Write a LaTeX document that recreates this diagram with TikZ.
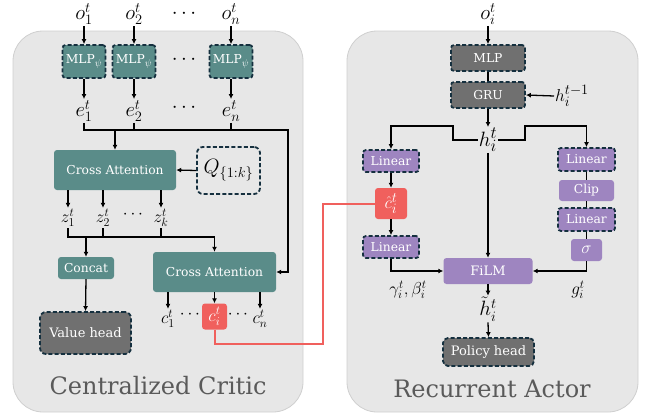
\documentclass[tikz,border=0pt]{standalone}
\usepackage{fontspec}
\setmainfont{DejaVu Serif}
\usetikzlibrary{arrows.meta}
\makeatletter
\def\defaultscriptratio{.78}
\makeatother
\definecolor{teal1}{HTML}{5A8C89}
\definecolor{graybox}{HTML}{707070}
\definecolor{purp}{HTML}{9E85C0}
\definecolor{redc}{HTML}{F0605D}
\definecolor{panelbg}{HTML}{E7E7E7}
\definecolor{panelbd}{HTML}{CFCFCF}
\definecolor{dashbd}{HTML}{15303F}
\definecolor{titlec}{HTML}{5A5A5A}
\tikzset{
  panel/.style={fill=panelbg,draw=panelbd,line width=0.8pt,rounded corners=30pt},
  box/.style={rounded corners=3pt,text=white,font=\fontsize{12.3}{14}\selectfont,inner sep=0pt,align=center},
  dbox/.style={box,draw=dashbd,line width=1.8pt,dash pattern=on 4pt off 2.2pt},
  tealbox/.style={box,fill=teal1},
  graybx/.style={box,fill=graybox},
  purpbox/.style={box,fill=purp},
  redbox/.style={box,fill=redc},
  lbl/.style={inner sep=1pt,font=\fontsize{20}{22}\selectfont},
  slbl/.style={inner sep=1pt,font=\fontsize{16.5}{18}\selectfont},
  arr/.style={line width=1.3pt,-{Latex[length=5pt,width=5pt]}},
  ln/.style={line width=1.3pt},
  redline/.style={draw=redc,line width=2pt},
  title/.style={text=titlec,font=\fontsize{24}{28}\selectfont}
}
\begin{document}
\begin{tikzpicture}[x=1pt,y=-1pt]
\useasboundingbox (0,0) rectangle (645,415);
% panels
\draw[panel] (13,31) rectangle (303,412);
\draw[panel] (347,31) rectangle (638,412);
% ---------- left: centralized critic ----------
\node[lbl] (o1) at (84,14) {$o_1^t$};
\node[lbl] (o2) at (134,14) {$o_2^t$};
\node[lbl] (odots) at (184,14) {$\cdots$};
\node[lbl] (on) at (231,14) {$o_n^t$};
\node[tealbox,dbox,minimum width=43pt,minimum height=33pt] (m1) at (84,61.5) {MLP$_\psi$};
\node[tealbox,dbox,minimum width=43pt,minimum height=33pt] (m2) at (134,61.5) {MLP$_\psi$};
\node[lbl] (mdots) at (184,60) {$\cdots$};
\node[tealbox,dbox,minimum width=43pt,minimum height=33pt] (mn) at (231,61.5) {MLP$_\psi$};
\node[lbl] (e1) at (84,111) {$e_1^t$};
\node[lbl] (e2) at (134,111) {$e_2^t$};
\node[lbl] (edots) at (184,108) {$\cdots$};
\node[lbl] (en) at (231,111) {$e_n^t$};
\foreach \a/\b in {o1/m1,o2/m2,on/mn,m1/e1,m2/e2,mn/en}
  \draw[arr] (\a.south) -- (\b.north);
\node[tealbox,minimum width=122pt,minimum height=40pt] (ca1) at (115,170) {Cross Attention};
\node[box,text=black,draw=dashbd,line width=1.8pt,dash pattern=on 4pt off 2.2pt,rounded corners=6pt,minimum width=63pt,minimum height=47pt,font=\fontsize{20}{22}\selectfont] (q) at (228.5,170.5) {$Q_{\{1:k\}}$};
\draw[arr] (q.west) -- (ca1.east);
\node[tealbox,minimum width=123pt,minimum height=40pt] (ca2) at (214.5,272) {Cross Attention};
\coordinate (busR) at (288,130);
\draw[arr] (e1.south) |- (busR) |- (ca2.east);
\draw[ln] (e2.south) -- (e2.south |- busR);
\draw[ln] (en.south) -- (en.south |- busR);
\draw[arr] (ca1.north |- busR) -- (ca1.north);
% z
\node[slbl] (z1) at (68,218) {$z_1^t$};
\node[slbl] (z2) at (103,218) {$z_2^t$};
\node[slbl] (zdots) at (133,215) {$\cdots$};
\node[slbl] (zk) at (161,218) {$z_k^t$};
\foreach \x/\z in {68/z1,103/z2,161/zk}
  \draw[arr] (\x,190) -- (\z.north);
\coordinate (zR) at (214.5,237);
\draw[ln] (z1.south) |- (zR);
\draw[ln] (z2.south) -- (z2.south |- zR);
\draw[ln] (zk.south) -- (zk.south |- zR);
\draw[arr] (zR) -- (ca2.north);
\node[tealbox,minimum width=56pt,minimum height=22pt] (concat) at (86,268) {Concat};
\draw[arr] (concat.north |- zR) -- (concat.north);
\node[graybx,dbox,rounded corners=6pt,minimum width=91pt,minimum height=42pt,font=\fontsize{13}{15}\selectfont] (vh) at (85.5,333) {Value head};
\draw[arr] (concat.south) -- (vh.north);
% c
\node[slbl] (c1) at (168,319) {$c_1^t$};
\node[slbl] (cd1) at (190,315) {$\cdots$};
\node[redbox,minimum width=25pt,minimum height=26pt,font=\fontsize{16.5}{18}\selectfont] (ci) at (214.5,316.5) {$c_i^t$};
\node[slbl] (cd2) at (238,315) {$\cdots$};
\node[slbl] (cn) at (260,319) {$c_n^t$};
\draw[arr] (168,292) -- (c1.north);
\draw[arr] (214.5,292) -- (ci.north);
\draw[arr] (260,292) -- (cn.north);
\node[title] (t1) at (158,386) {Centralized Critic};
% ---------- right: recurrent actor ----------
\node[lbl] (oi) at (488,14) {$o_i^t$};
\node[graybx,dbox,minimum width=74pt,minimum height=26pt] (mlp) at (488,58) {MLP};
\node[graybx,dbox,minimum width=74pt,minimum height=26pt] (gru) at (488,95) {GRU};
\node[slbl,font=\fontsize{17}{19}\selectfont] (hprev) at (572,96) {$h_i^{t-1}$};
\node[lbl,font=\fontsize{22}{24}\selectfont] (h) at (488,140) {$h_i^t$};
\draw[arr] (oi.south) -- (mlp.north);
\draw[ln] (mlp.south) -- (gru.north);
\draw[arr] (hprev.west) -- (gru.east);
\draw[arr] (gru.south) -- (h.north);
\node[purpbox,dbox,minimum width=56pt,minimum height=22pt] (l1) at (391,161) {Linear};
\node[redbox,minimum width=32pt,minimum height=31pt,font=\fontsize{18}{20}\selectfont] (chat) at (391,203.5) {$\hat{c}_i^t$};
\node[purpbox,dbox,minimum width=56pt,minimum height=22pt] (l2) at (391,247) {Linear};
\node[purpbox,minimum width=89pt,minimum height=26pt,font=\fontsize{13}{15}\selectfont] (film) at (488,271) {FiLM};
\node[purpbox,dbox,minimum width=57pt,minimum height=23pt] (r1) at (586.5,159.5) {Linear};
\node[purpbox,minimum width=55pt,minimum height=21pt] (clip) at (586.5,190.5) {Clip};
\node[purpbox,dbox,minimum width=57pt,minimum height=23pt] (r2) at (586.5,219.5) {Linear};
\node[purpbox,minimum width=31pt,minimum height=22pt,font=\fontsize{16}{18}\selectfont] (sig) at (586.5,250) {$\sigma$};
\coordinate (hl) at (453,126);
\coordinate (hr) at (525,126);
\draw[arr] (h.west) -| (hl) -| (l1.north);
\draw[arr] (h.east) -| (hr) -| (r1.north);
\draw[arr] (l1.south) -- (chat.north);
\draw[arr] (chat.south) -- (l2.north);
\draw[arr] (l2.south) |- (film.west);
\draw[arr] (h.south) -- (film.north);
\draw[ln] (r1.south) -- (clip.north);
\draw[ln] (clip.south) -- (r2.north);
\draw[ln] (r2.south) -- (sig.north);
\draw[arr] (sig.south) |- (film.east);
\node[slbl] (gb) at (408,290) {$\gamma_i^t,\beta_i^t$};
\node[slbl] (g) at (578,290) {$g_i^t$};
\node[lbl] (ht) at (488,309) {$\tilde{h}_i^t$};
\draw[arr] (film.south) -- (ht.north);
\node[graybx,dbox,rounded corners=5pt,minimum width=91pt,minimum height=28pt,font=\fontsize{13}{15}\selectfont] (ph) at (488.5,352) {Policy head};
\draw[arr] (ht.south) -- (ph.north);
\node[title] (t2) at (492,389) {Recurrent Actor};
% red link
\coordinate (rc) at (323,344);
\draw[redline] (ci.south) |- (rc) |- (chat.west);
\end{tikzpicture}
\end{document}
